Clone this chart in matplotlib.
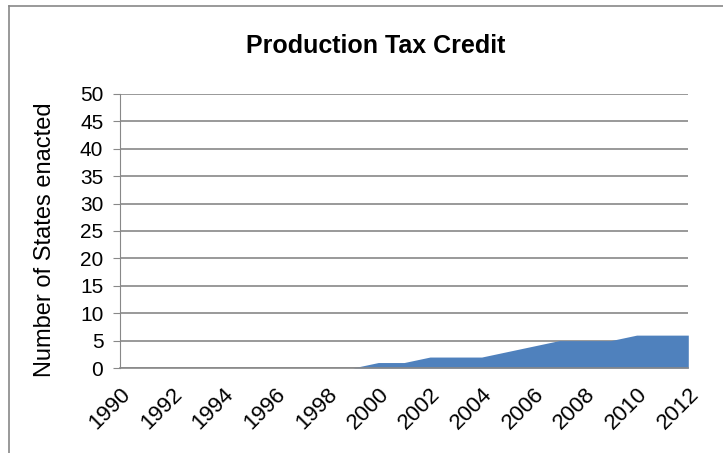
import matplotlib
matplotlib.use("Agg")
import matplotlib.pyplot as plt
from matplotlib.lines import Line2D

years = list(range(1990, 2013))
states = [0, 0, 0, 0, 0, 0, 0, 0, 0, 0, 1, 1, 2, 2, 2, 3, 4, 5, 5, 5, 6, 6, 6]
year_ticks = list(range(1990, 2013, 2))
y_ticks = list(range(0, 51, 5))

plt.rcParams['font.family'] = ['Liberation Sans', 'DejaVu Sans']

fig = plt.figure(figsize=(7.23, 4.53), dpi=100)
ax = fig.add_axes([0.166, 0.1876, 0.786, 0.605])

ax.fill_between(years, states, 0, color='#4f81bd', linewidth=0, zorder=2)

ax.set_xlim(1990, 2012)
ax.set_ylim(0, 50)
ax.set_yticks(y_ticks)
ax.set_xticks(year_ticks)
ax.set_xticklabels([str(y) for y in year_ticks], rotation=45, ha='right',
                   rotation_mode='anchor', fontsize=16)
ax.tick_params(axis='y', labelsize=15, length=5, color='#888888', direction='out', pad=7)
ax.tick_params(axis='x', length=0, pad=11)
ax.grid(axis='y', color='#888888', linewidth=1.2, zorder=1)
ax.set_axisbelow(True)

for side in ['top', 'right']:
    ax.spines[side].set_visible(False)
ax.spines['left'].set_color('#888888')
ax.spines['bottom'].set_color('#888888')
ax.spines['bottom'].set_linewidth(1.2)

ax.set_ylabel('Number of States enacted', fontsize=17)
ax.yaxis.set_label_coords(-0.112, 0.47)
fig.text(0.52, 0.898, 'Production Tax Credit', ha='center', va='center',
         fontsize=18, fontweight='bold')

# outer chart frame (only top and left are visible in the crop)
fig.add_artist(Line2D([9 / 723, 1], [1 - 6 / 453, 1 - 6 / 453],
                      transform=fig.transFigure, color='#888888', linewidth=1.2))
fig.add_artist(Line2D([9 / 723, 9 / 723], [0, 1 - 6 / 453],
                      transform=fig.transFigure, color='#888888', linewidth=1.2))

fig.savefig('out.png', dpi=100)
